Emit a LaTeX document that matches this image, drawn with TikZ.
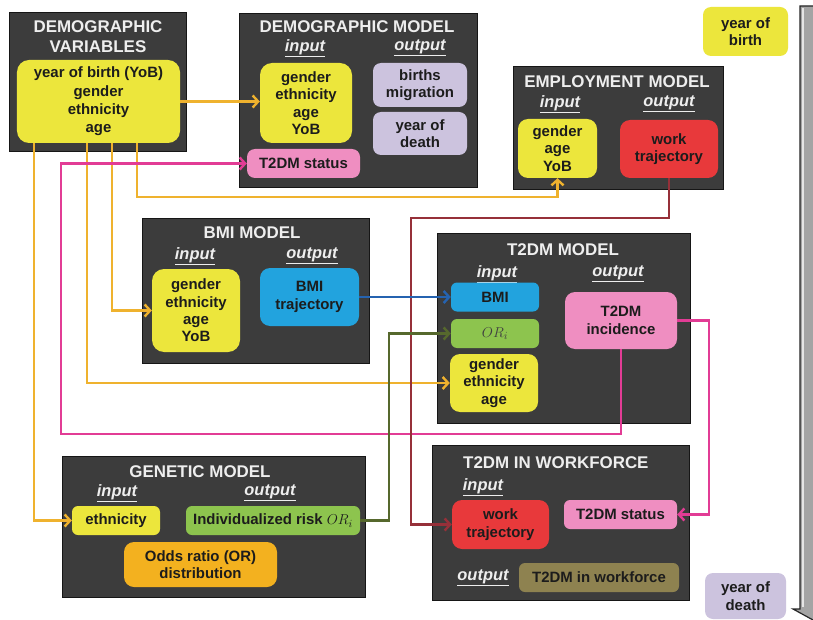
\documentclass[tikz,border=0pt]{standalone}
\usepackage{fontspec}
\setmainfont{Liberation Sans}
\usetikzlibrary{arrows.meta}

\definecolor{panelgray}{HTML}{3C3C3C}
\definecolor{paneledge}{HTML}{161616}
\definecolor{lighttext}{HTML}{EEEEEE}
\definecolor{darktext}{HTML}{1C1C1C}
\definecolor{cyellow}{HTML}{ECE63C}
\definecolor{cpurple}{HTML}{CCC3DE}
\definecolor{cpink}{HTML}{EF8EC1}
\definecolor{cred}{HTML}{E8393B}
\definecolor{cblue}{HTML}{22A3DE}
\definecolor{cgreen}{HTML}{8DC44E}
\definecolor{corange}{HTML}{F3B11F}
\definecolor{colive}{HTML}{8E8250}
\definecolor{lorange}{HTML}{EFB22E}
\definecolor{lpink}{HTML}{E23C95}
\definecolor{lred}{HTML}{963039}
\definecolor{lolive}{HTML}{56682D}
\definecolor{lblue}{HTML}{2563B0}
\definecolor{arrowgray}{HTML}{A4A4A4}

\newcommand{\bodyfont}{\fontsize{15}{17.5}\selectfont\bfseries}
\newcommand{\titlefont}{\fontsize{17}{20}\selectfont\bfseries}
\newcommand{\iofont}{\fontsize{16.5}{19}\selectfont\bfseries\itshape}

\begin{document}
\begin{tikzpicture}[x=1bp,y=-1bp,
  sz/.style 2 args={minimum width=#1bp, minimum height=#2bp},
  panel/.style={draw=paneledge, fill=panelgray, line width=1bp, inner sep=0pt},
  ibox/.style={rounded corners=8bp, inner sep=0pt, align=center, font=\bodyfont, text=darktext},
  title/.style={font=\titlefont, text=lighttext, align=center, inner sep=0pt},
  iolabel/.style={font=\iofont, text=lighttext, inner sep=0pt},
  conn/.style={line width=2.4bp, -{Straight Barb[length=5.5bp,width=12bp]}},
  oline/.style={conn, draw=lorange},
  pline/.style={conn, draw=lpink},
  rline/.style={conn, draw=lred},
  gline/.style={conn, draw=lolive},
  bline/.style={conn, draw=lblue}]

\useasboundingbox (0,0) rectangle (813,620);
\fill[white] (0,0) rectangle (813,620);

% time axis on the right edge
\begin{scope}
  \clip (0,0) rectangle (813,620);
  \filldraw[fill=arrowgray, draw=black!85, line width=1.2bp]
    (800,6) -- (826,6) -- (826,609) -- (833,609) -- (813,620) -- (793,609) -- (800,609) -- cycle;
  \draw[white!80!gray, line width=2bp] (802.5,8) -- (802.5,607);
\end{scope}
\node[ibox, fill=cyellow, sz={85}{49}] (yob) at (745.5,31.5) {year of\\birth};
\node[ibox, fill=cpurple, sz={81}{46}] (yod) at (745.5,596) {year of\\death};

% panels
\node[panel, sz={176}{139}] (dvpanel) at (98,82.5) {};
\node[panel, sz={238}{173}] (dmpanel) at (358,100.5) {};
\node[panel, sz={210}{122}] (empanel) at (618,128) {};
\node[panel, sz={227}{144}] (bmipanel) at (255.5,291) {};
\node[panel, sz={253}{189}] (t2panel) at (563.5,328.5) {};
\node[panel, sz={302}{141}] (genpanel) at (214,526.5) {};
\node[panel, sz={257}{155}] (wfpanel) at (560.5,522.5) {};

% demographic variables
\node[title] (dvtitle) at (98,37) {DEMOGRAPHIC\\[0bp]VARIABLES};
\node[ibox, rounded corners=12bp, fill=cyellow, sz={163}{83}, font=\fontsize{15}{18.5}\selectfont\bfseries] (dvy) at (98.5,101.5)
  {year of birth (YoB)\\gender\\ethnicity\\age};

% demographic model
\node[title] (dmtitle) at (357,27) {DEMOGRAPHIC MODEL};
\node[iolabel] (dmi) at (305,48) {\underline{input}};
\node[iolabel] (dmo) at (420,48) {\underline{output}};
\node[ibox, rounded corners=12bp, fill=cyellow, sz={92}{80}] (dmin) at (306,103) {gender\\ethnicity\\age\\YoB};
\node[ibox, fill=cpurple, sz={94}{44}] (dmbm) at (420,85) {births\\migration};
\node[ibox, fill=cpurple, sz={94}{43}] (dmyd) at (420,133.5) {year of\\death};
\node[ibox, fill=cpink, sz={113}{29}] (dms) at (303.5,163.5) {T2DM status};

% employment model
\node[title] (emtitle) at (617,82) {EMPLOYMENT MODEL};
\node[iolabel] (emi) at (560,104) {\underline{input}};
\node[iolabel] (emo) at (669,104) {\underline{output}};
\node[ibox, rounded corners=10bp, fill=cyellow, sz={79}{59}] (ein) at (557.5,148.5) {gender\\age\\YoB};
\node[ibox, rounded corners=10bp, fill=cred, sz={98}{58}] (ewt) at (669,149) {work\\trajectory};

% BMI model
\node[title] (bmititle) at (252,233) {BMI MODEL};
\node[iolabel] (bmii) at (195,256) {\underline{input}};
\node[iolabel] (bmio) at (312,256) {\underline{output}};
\node[ibox, rounded corners=12bp, fill=cyellow, sz={88}{83}] (bin) at (196,310.5) {gender\\ethnicity\\age\\YoB};
\node[ibox, rounded corners=10bp, fill=cblue, sz={99}{58}] (bout) at (309.5,297) {BMI\\trajectory};

% T2DM model
\node[title] (t2title) at (563,250) {T2DM MODEL};
\node[iolabel] (t2i) at (497,274) {\underline{input}};
\node[iolabel] (t2o) at (618,274) {\underline{output}};
\node[ibox, rounded corners=6bp, fill=cblue, sz={88}{29}] (tbmi) at (495,297) {BMI};
\node[ibox, rounded corners=6bp, fill=cgreen, sz={88}{29}, font=\fontsize{15}{17.5}\selectfont, text=black!75] (tor) at (495,333.5) {$OR_i$};
\node[ibox, rounded corners=10bp, fill=cyellow, sz={88}{58}] (tin3) at (494,383) {gender\\ethnicity\\age};
\node[ibox, rounded corners=10bp, fill=cpink, sz={112}{57}] (tout) at (621,320.5) {T2DM\\incidence};

% genetic model
\node[title] (gentitle) at (200,472) {GENETIC MODEL};
\node[iolabel] (geni) at (117,493) {\underline{input}};
\node[iolabel] (geno) at (270,493) {\underline{output}};
\node[ibox, rounded corners=6bp, fill=cyellow, sz={88}{29}] (gin) at (116,520.5) {ethnicity};
\node[ibox, rounded corners=6bp, fill=cgreen, sz={174}{29}] (gout) at (273,520.5) {Individualized risk \mdseries$OR_i$};
\node[ibox, rounded corners=10bp, fill=corange, sz={153}{45}] (godds) at (200.5,564.5) {Odds ratio (OR)\\distribution};

% T2DM in workforce
\node[title, anchor=west] (wftitle) at (463,463) {T2DM IN WORKFORCE};
\node[iolabel] (wfi) at (483,487) {\underline{input}};
\node[iolabel] (wfo) at (483,578) {\underline{output}};
\node[ibox, rounded corners=10bp, fill=cred, sz={97}{49}] (wwt) at (500.5,524.5) {work\\trajectory};
\node[ibox, rounded corners=6bp, fill=cpink, sz={113}{29}] (wts) at (620.5,514.5) {T2DM status};
\node[ibox, rounded corners=6bp, fill=colive, sz={160}{29}] (wout) at (599,577.5) {T2DM in workforce};

% routing levels for the connectors
\coordinate (yobrow) at (0,197);
\coordinate (pinkbot) at (61,434);
\coordinate (pinkright) at (709,0);
\coordinate (redbend) at (411,218);
\coordinate (olivex) at (389,0);

% demographic variables feed the models
\draw[oline] (dvy.east) -- (dvy.east -| dmin.west);
\draw[oline] ([xshift=17bp]dvy.south west) |- (gin.west);
\draw[oline] ([xshift=70bp]dvy.south west) |- (tin3.west);
\draw[oline] ([xshift=95bp]dvy.south west) |- (bin.west);
\draw[oline] ([xshift=120bp]dvy.south west) |- (yobrow -| ein.south) -- (ein.south);

% model outputs
\draw[pline] (tout.south) |- (pinkbot) |- (dms.west);
\draw[pline] (tout.east) -- (tout.east -| pinkright) |- (wts.east);
\draw[rline] (ewt.south) |- (redbend) |- (wwt.west);
\draw[bline] (bout.east) -- (bout.east -| tbmi.west);
\draw[gline] (gout.east) -- (gout.east -| olivex) |- (tor.west);

\end{tikzpicture}
\end{document}
